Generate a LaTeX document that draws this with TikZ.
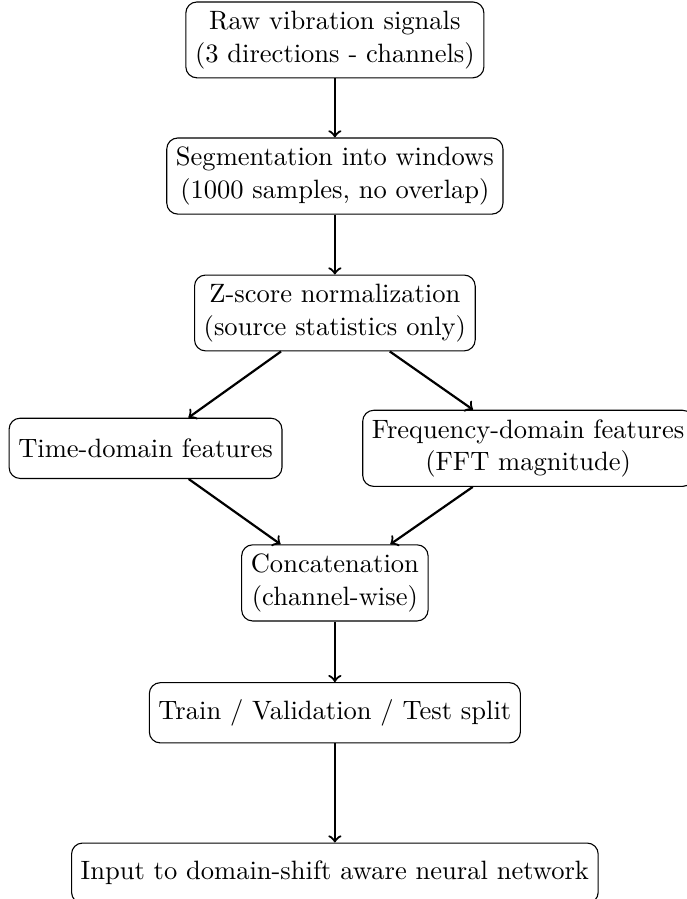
\documentclass[tikz,border=0pt]{standalone}
\begin{document}
\begin{tikzpicture}[box/.style={draw, rounded corners, align=center, minimum height=.77cm, font=\fontsize{9.65}{11.8}\selectfont}, flow/.style={thick,->}]
\useasboundingbox (-4.28,-10.98) rectangle (4.49,.51);
\node[box](raw) at (0,0){Raw vibration signals\\(3 directions - channels)};
\node[box](seg) at (0,-1.74){Segmentation into windows\\(1000 samples, no overlap)};
\node[box](norm) at (0,-3.49){Z-score normalization\\(source statistics only)};
\node[box](time) at (-2.42,-5.22){Time-domain features};
\node[box](freq) at (2.47,-5.22){Frequency-domain features\\(FFT magnitude)};
\node[box](concat) at (0,-6.94){Concatenation\\(channel-wise)};
\node[box](split) at (0,-8.6){Train / Validation / Test split};
\node[box](input) at (0,-10.65){Input to domain-shift aware neural network};

\draw[flow](raw)--(seg);
\draw[flow](seg)--(norm);
\draw[flow](norm)--(time);
\draw[flow](norm)--(freq);
\draw[flow](time)--(concat);
\draw[flow](freq)--(concat);
\draw[flow](concat)--(split);
\draw[flow](split)--(input);
\end{tikzpicture}
\end{document}
